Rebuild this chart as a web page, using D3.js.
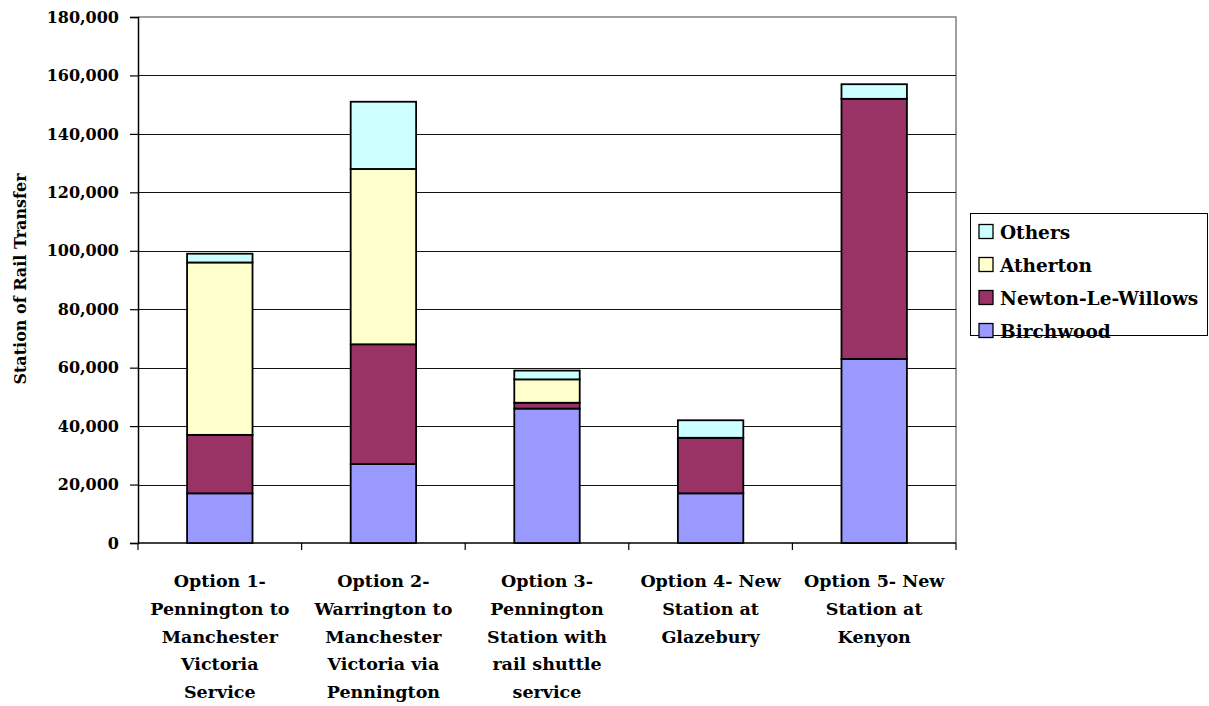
<!DOCTYPE html>
<html>
<head>
<meta charset="utf-8">
<script src="https://cdn.jsdelivr.net/npm/d3@7"></script>
<style>
  body { margin: 0; background: #fff; }
  svg text { font-family: "DejaVu Serif", serif; font-weight: bold; fill: #000; }
</style>
</head>
<body>
<svg id="chart" width="1209" height="706"></svg>
<script>
// Options compared (label lines)
const categories = [
  ["Option 1-", "Pennington to", "Manchester", "Victoria", "Service"],
  ["Option 2-", "Warrington to", "Manchester", "Victoria via", "Pennington"],
  ["Option 3-", "Pennington", "Station with", "rail shuttle", "service"],
  ["Option 4- New", "Station at", "Glazebury"],
  ["Option 5- New", "Station at", "Kenyon"]
];
// Stacked series, bottom to top
const seriesNames = ["Birchwood", "Newton-Le-Willows", "Atherton", "Others"];
const birchwood = [17000, 27000, 46000, 17000, 63000];
const newton    = [20000, 41000,  2000, 19000, 89000];
const atherton  = [59000, 60000,  8000,     0,     0];
const others    = [ 3000, 23000,  3000,  6000,  5000];
const yTicks = [0, 20000, 40000, 60000, 80000, 100000, 120000, 140000, 160000, 180000];
const colors = ["#9999ff", "#993366", "#ffffcc", "#ccffff"];

const svg = d3.select("#chart");
const plot = { left: 138, right: 956, top: 17, bottom: 543 };

const rows = categories.map((c, i) => ({
  key: i,
  Birchwood: birchwood[i],
  "Newton-Le-Willows": newton[i],
  Atherton: atherton[i],
  Others: others[i]
}));
const stacked = d3.stack().keys(seriesNames)(rows);

const x = d3.scaleBand().domain(d3.range(categories.length))
  .range([plot.left, plot.right]).paddingInner(0.6).paddingOuter(0.3);
const xBorders = d3.scaleLinear().domain([0, categories.length]).range([plot.left, plot.right]);
const y = d3.scaleLinear().domain([0, 180000]).range([plot.bottom, plot.top]);

// plot frame (top and right)
svg.append("path")
  .attr("d", `M${plot.left},${plot.top}H${plot.right}V${plot.bottom}`)
  .attr("fill", "none").attr("stroke", "#808080").attr("stroke-width", 1.5);

// gridlines
svg.append("g").selectAll("line").data(yTicks.filter(t => t > 0 && t < 180000)).join("line")
  .attr("x1", plot.left).attr("x2", plot.right)
  .attr("y1", d => Math.round(y(d)) + 0.5).attr("y2", d => Math.round(y(d)) + 0.5)
  .attr("stroke", "#111").attr("stroke-width", 1);

// y axis
const yAxis = d3.axisLeft(y).tickValues(yTicks).tickSize(8).tickPadding(11)
  .tickFormat(d3.format(","));
const gy = svg.append("g").attr("transform", `translate(${plot.left},0)`).call(yAxis);
gy.select(".domain").attr("stroke", "#000").attr("stroke-width", 1.5);
gy.selectAll(".tick line").attr("stroke", "#000").attr("stroke-width", 1.2);
gy.selectAll(".tick text").style("font-size", "16px").style("font-family", "DejaVu Serif");

// x axis with ticks at category borders
const gx = svg.append("g").attr("transform", `translate(0,${plot.bottom})`);
gx.append("line").attr("x1", plot.left).attr("x2", plot.right)
  .attr("stroke", "#000").attr("stroke-width", 1.5);
gx.selectAll("line.tk").data(d3.range(categories.length + 1)).join("line")
  .attr("class", "tk")
  .attr("x1", d => xBorders(d)).attr("x2", d => xBorders(d))
  .attr("y1", 0).attr("y2", 7)
  .attr("stroke", "#000").attr("stroke-width", 1.2);

// category labels
const labels = svg.append("g").selectAll("text").data(categories).join("text")
  .attr("text-anchor", "middle")
  .attr("x", (d, i) => x(i) + x.bandwidth() / 2)
  .attr("y", 587)
  .style("font-size", "17.5px");
labels.selectAll("tspan").data(d => d).join("tspan")
  .attr("x", function () { return this.parentNode.getAttribute("x"); })
  .attr("dy", (d, i) => i === 0 ? 0 : 27.8)
  .text(d => d);

// stacked bars
svg.append("g").selectAll("g").data(stacked).join("g")
  .attr("fill", (d, i) => colors[i])
  .selectAll("rect").data(d => d.filter(s => s[1] - s[0] > 0)).join("rect")
  .attr("x", d => x(d.data.key))
  .attr("width", x.bandwidth())
  .attr("y", d => y(d[1]))
  .attr("height", d => y(d[0]) - y(d[1]))
  .attr("stroke", "#000").attr("stroke-width", 1.8);

// y axis title
svg.append("text")
  .attr("transform", "translate(26,279) rotate(-90)")
  .attr("text-anchor", "middle")
  .style("font-size", "16px")
  .text("Station of Rail Transfer");

// legend
const legend = svg.append("g");
legend.append("rect").attr("x", 970.5).attr("y", 213.5).attr("width", 237).attr("height", 122)
  .attr("fill", "#fff").attr("stroke", "#000").attr("stroke-width", 1);
const legendOrder = seriesNames.slice().reverse();
const li = legend.selectAll("g.item").data(legendOrder).join("g").attr("class", "item")
  .attr("transform", (d, i) => `translate(979,${231.5 + i * 33})`);
li.append("rect").attr("x", 0).attr("y", -7).attr("width", 14).attr("height", 14)
  .attr("fill", d => colors[seriesNames.indexOf(d)]).attr("stroke", "#000").attr("stroke-width", 1.3);
li.append("text").attr("x", 21).attr("y", 7).style("font-size", "18.5px").text(d => d);
</script>
</body>
</html>
